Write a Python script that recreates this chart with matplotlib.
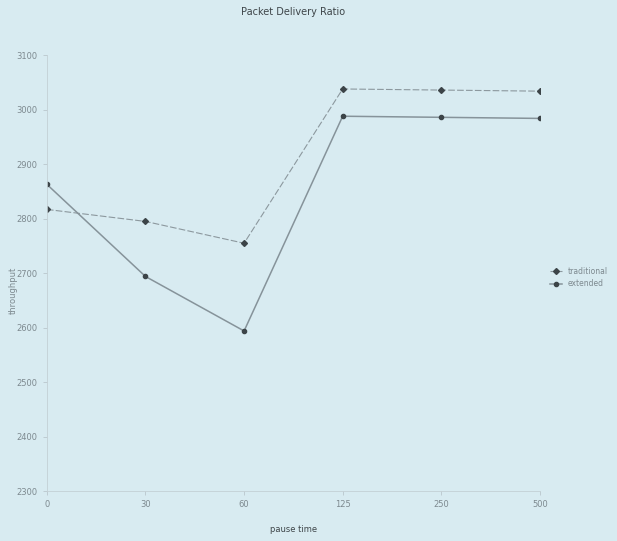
import matplotlib.pyplot as plt

pause_time = ['0', '30', '60', '125', '250', '500']
traditional = [2817, 2795, 2755, 3038, 3036, 3034]
extended = [2863, 2694, 2594, 2988, 2986, 2984]
y_ticks = [2300, 2400, 2500, 2600, 2700, 2800, 2900, 3000, 3100]

bg = '#d8ebf1'
ink = '#7d898f'

fig = plt.figure(figsize=(6.17, 5.41), dpi=100, facecolor=bg)
ax = fig.add_axes([0.076, 0.092, 0.799, 0.806], facecolor=bg)

x = range(len(pause_time))
ax.plot(x, traditional, color='#8c989e', lw=0.8, ls=(0, (6, 2)),
        marker='D', ms=3, mfc='#3c4448', mec='#3c4448', label='traditional')
ax.plot(x, extended, color='#86939a', lw=1.1,
        marker='o', ms=3, mfc='#3c4448', mec='#3c4448', label='extended')

ax.set_xlim(0, len(pause_time) - 1)
ax.set_ylim(2300, 3100)
ax.set_xticks(list(x))
ax.set_xticklabels(pause_time)
ax.set_yticks(y_ticks)
ax.tick_params(colors='#b9c6cc', labelcolor=ink, labelsize=6, length=3, width=0.6)

for side in ['top', 'right']:
    ax.spines[side].set_visible(False)
ax.spines['left'].set_color('#c3d0d5')
ax.spines['bottom'].set_color('#c3d0d5')
ax.spines['left'].set_linewidth(0.6)
ax.spines['bottom'].set_linewidth(0.6)

ax.set_title('Packet Delivery Ratio', fontsize=7, color='#3e4549', pad=29)
ax.set_xlabel('pause time', fontsize=6, color='#3e4549', labelpad=11)
ax.set_ylabel('throughput', fontsize=6, color=ink)
ax.yaxis.set_label_coords(-0.06, 0.46)

ax.legend(loc='center left', bbox_to_anchor=(1.01, 0.49), frameon=False,
          fontsize=5.5, labelcolor=ink, handlelength=1.5, borderpad=0.2)

fig.savefig('out.png', dpi=100, facecolor=bg)
